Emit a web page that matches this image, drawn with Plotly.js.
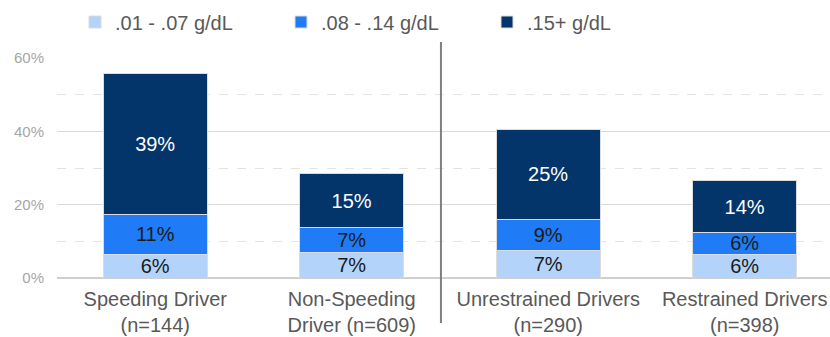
<!DOCTYPE html>
<html>
<head>
<meta charset="utf-8">
<script src="https://cdn.plot.ly/plotly-3.0.1.min.js"></script>
<style>html,body{margin:0;padding:0;background:#fff;}#chart{width:830px;height:337px;}</style>
</head>
<body>
<div id="chart"></div>
<script>
// Data
const categories = [
  'Speeding Driver<br>(n=144)',
  'Non-Speeding<br>Driver (n=609)',
  'Unrestrained Drivers<br>(n=290)',
  'Restrained Drivers<br>(n=398)'
];
const seriesNames = ['.01 - .07 g/dL', '.08 - .14 g/dL', '.15+ g/dL'];
const low = [6.5, 6.9, 7.4, 6.4];
const mid = [10.9, 6.9, 8.5, 6.1];
const high = [38.5, 14.6, 24.7, 14.0];
const lowLabels = ['6%', '7%', '7%', '6%'];
const midLabels = ['11%', '7%', '9%', '6%'];
const highLabels = ['39%', '15%', '25%', '14%'];

const colors = ['#b3d3fb', '#1f7bf6', '#03356a'];
const textColors = ['#1a1a1a', '#1a1a1a', '#ffffff'];
const values = [low, mid, high];
const labels = [lowLabels, midLabels, highLabels];

const traces = values.map((v, i) => ({
  type: 'bar',
  name: seriesNames[i],
  x: categories,
  y: v,
  text: labels[i],
  texttemplate: '%{text}',
  textposition: 'inside',
  insidetextanchor: 'middle',
  textangle: 0,
  textfont: {family: 'Liberation Sans, Arial, sans-serif', size: 20, color: textColors[i]},
  marker: {color: colors[i], line: {color: '#dcdcdc', width: 1}},
  hoverinfo: 'skip'
}));

const layout = {
  width: 830, height: 337,
  margin: {l: 57, r: 0, t: 58, b: 59},
  barmode: 'stack',
  bargap: 0.47,
  paper_bgcolor: '#fff', plot_bgcolor: '#fff',
  font: {family: 'Liberation Sans, Arial, sans-serif', color: '#595959'},
  uniformtext: {mode: 'show', minsize: 20},
  showlegend: true,
  legend: {
    orientation: 'h', xref: 'container', yref: 'container',
    x: 75/830, xanchor: 'left', y: 1 - 22/337, yanchor: 'middle',
    font: {size: 20, color: '#595959'},
    traceorder: 'normal', entrywidth: 161, entrywidthmode: 'pixels',
    itemclick: false
  },
  xaxis: {
    type: 'category',
    range: [-0.5, 3.434],
    showgrid: false, zeroline: false,
    showline: false,
    ticks: '',
    ticklabelstandoff: 7,
    tickfont: {size: 20, color: '#595959'},
    fixedrange: true
  },
  yaxis: {
    range: [0, 60],
    dtick: 20,
    ticksuffix: '%',
    ticklabelstandoff: 12,
    tickfont: {size: 15, color: '#a6a6a6'},
    showgrid: true, gridcolor: '#d9d9d9', gridwidth: 1,
    minor: {dtick: 10, showgrid: true, gridcolor: '#e3e3e3', griddash: 'dash', gridwidth: 1},
    zeroline: true, zerolinecolor: '#cfcfcf', zerolinewidth: 2,
    showline: false, ticks: '',
    fixedrange: true
  },
  shapes: [{
    type: 'line', xref: 'x', yref: 'paper',
    x0: 1.454, x1: 1.454, y0: -0.205, y1: 1.09,
    line: {color: '#7f7f7f', width: 2}
  }]
};

Plotly.newPlot('chart', traces, layout, {displayModeBar: false, staticPlot: true});
</script>
</body>
</html>
